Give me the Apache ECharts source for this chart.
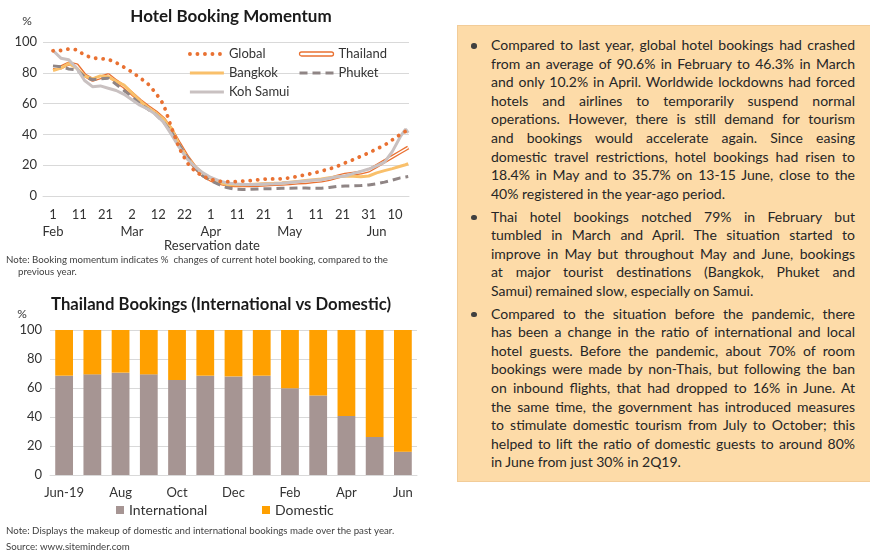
<!DOCTYPE html>
<html><head><meta charset="utf-8">
<script src="https://cdn.jsdelivr.net/npm/echarts@6/dist/echarts.min.js"></script>
<style>
html,body{margin:0;padding:0;background:#fff;}
#chart{position:absolute;left:0;top:0;width:870px;height:560px;}
#box{position:absolute;left:457px;top:25px;width:413px;height:457px;background:#FDDBA8;box-sizing:border-box;border:1px solid #F2CC98;border-right:none;padding-top:10px;font-family:Lato,sans-serif;font-size:14px;color:#262626;}
.p{position:relative;margin-left:33px;width:364px;margin-bottom:4.2px;}
.l{height:18.6px;line-height:18.6px;text-align:justify;text-align-last:justify;white-space:nowrap;}
.l.e{text-align-last:left;}
.p:before{content:'';position:absolute;left:-20px;top:7px;width:5.5px;height:5.5px;border-radius:50%;background:#404040;}
</style>
</head><body>
<div id="chart"></div>
<div id="box">
<div class="p">
<div class="l">Compared to last year, global hotel bookings had crashed</div>
<div class="l">from an average of 90.6% in February to 46.3% in March</div>
<div class="l">and only 10.2% in April. Worldwide lockdowns had forced</div>
<div class="l">hotels and airlines to temporarily suspend normal</div>
<div class="l">operations. However, there is still demand for tourism</div>
<div class="l">and bookings would accelerate again. Since easing</div>
<div class="l">domestic travel restrictions, hotel bookings had risen to</div>
<div class="l">18.4% in May and to 35.7% on 13-15 June, close to the</div>
<div class="l e">40% registered in the year-ago period.</div>
</div>
<div class="p">
<div class="l">Thai hotel bookings notched 79% in February but</div>
<div class="l">tumbled in March and April. The situation started to</div>
<div class="l">improve in May but throughout May and June, bookings</div>
<div class="l">at major tourist destinations (Bangkok, Phuket and</div>
<div class="l e">Samui) remained slow, especially on Samui.</div>
</div>
<div class="p">
<div class="l">Compared to the situation before the pandemic, there</div>
<div class="l">has been a change in the ratio of international and local</div>
<div class="l">hotel guests. Before the pandemic, about 70% of room</div>
<div class="l">bookings were made by non-Thais, but following the ban</div>
<div class="l">on inbound flights, that had dropped to 16% in June. At</div>
<div class="l">the same time, the government has introduced measures</div>
<div class="l">to stimulate domestic tourism from July to October; this</div>
<div class="l">helped to lift the ratio of domestic guests to around 80%</div>
<div class="l e">in June from just 30% in 2Q19.</div>
</div>
</div>
<script>
// ---- Top chart data (day index from 1 Feb 2020) ----
const days = [0,3,6,9,12,15,18,21,24,27,30,33,36,39,42,45,48,51,54,57,60,63,66,69,72,75,78,81,84,87,90,93,96,99,102,105,108,111,114,117,120,123,126,129,132,134,135];
const globalVals = [94.3,94.5,95.5,95,91.5,89.6,89.2,88.7,86.6,83.6,80.5,76.8,73,67,59.5,44.5,31,21.5,16,12.8,10.8,9.6,9.3,9.3,9.6,10,10.5,11,11.1,11.2,11.8,12.8,13.8,14.8,16.2,17.5,19.3,21.5,23.5,25.8,28,30.5,33,36.5,40,42,42.5];
const thailandVals = [83.5,83.5,86,85,78.5,75.5,77,78.5,74.5,71,66.5,62,58,54.5,50,43,34,25.5,18.5,13.5,10.5,8.5,7.5,7,7,7,7.2,7.5,7.8,8,8.3,8.8,9,9.5,10,11,12.5,13.8,14.5,15.2,16.5,19.5,22.5,25.5,28.5,30.5,31.5];
const bangkokVals = [81.5,83,86,83,78,76,78,77.5,74.5,72,67,62,57.5,54,50,44,33,25,19,14.5,11.5,9,7.5,7.3,7.3,7.5,7.8,8,8.2,8.5,9,9.5,10,10.5,11,11.8,12.5,12.8,12.8,12.5,13,15,16.5,17.8,19.3,20.3,21];
const phuketVals = [84.5,84,82.5,82,77.5,75.5,76,76.5,72.5,68.5,64.5,60,56.5,53,48,41.5,33,25,18.5,13,10,7.5,5.5,4.5,4.3,4.3,4.5,4.7,4.8,5,5,5.2,5.2,5,5,5.5,6.3,6.5,6.6,6.8,7.2,8,9,10.3,11.8,12.4,12.7];
const kohSamuiVals = [94.5,89.5,88.5,83,75,71,71.5,70,68.5,66,62.5,59,56.5,53,48,40,31.5,24,19,15,12,10,8.5,8,7.5,7.5,7.5,7.8,8,8.3,8.8,9.3,9.8,10.2,10.5,11.5,12.5,13,14.5,16,17.5,19.5,22,29,38.5,43.5,41];
const tickValues = [0,10,20,30,40,50,60,70,80,90,100,110,120,123,130];
const tickLabels = ['1\nFeb','11','21','2\nMar','12','22','1\nApr','11','21','1\nMay','11','21','31','\nJun','10'];

// ---- Bottom chart data ----
const barCats = ['Jun-19','Jul','Aug','Sep','Oct','Nov','Dec','Jan','Feb','Mar','Apr','May','Jun'];
const intlVals = [68.5,69.4,70.6,69.4,65.5,68.5,68,68.5,59.8,54.9,40.7,26.2,16.1];
const domVals = [31.5,30.6,29.4,30.6,34.5,31.5,32,31.5,40.2,45.1,59.3,73.8,83.9];

const F = 'Lato, sans-serif';
const TXT = '#333';
const pairs = vals => days.map((d, i) => [d, vals[i]]);
const lineBase = { type: 'line', xAxisIndex: 0, yAxisIndex: 0, symbol: 'none', showSymbol: false, animation: false };

const chart = echarts.init(document.getElementById('chart'), null, { renderer: 'canvas' });
chart.setOption({
  animation: false,
  textStyle: { fontFamily: F },
  title: [
    { text: 'Hotel Booking Momentum', left: 231, top: 6, padding: 0, textAlign: 'center',
      textStyle: { fontFamily: F, fontWeight: 'bold', fontSize: 17, lineHeight: 22, color: '#1a1a1a' } },
    { text: '%', left: 27, top: 14, padding: 0, textAlign: 'center', textStyle: { fontFamily: F, fontWeight: 'normal', fontSize: 12, lineHeight: 14, color: TXT } },
    { text: 'Reservation date', left: 212, top: 238, padding: 0, textAlign: 'center', textStyle: { fontFamily: F, fontWeight: 'normal', fontSize: 13, lineHeight: 16, color: TXT } },
    { text: 'Note: Booking momentum indicates %  changes of current hotel booking, compared to the', left: 6, top: 254, padding: 0,
      textStyle: { fontFamily: F, fontWeight: 'normal', fontSize: 9.7, lineHeight: 12, color: '#404040' } },
    { text: 'previous year.', left: 18, top: 266, padding: 0, textStyle: { fontFamily: F, fontWeight: 'normal', fontSize: 9.7, lineHeight: 12, color: '#404040' } },
    { text: 'Thailand Bookings (International vs Domestic)', left: 221, top: 294, padding: 0, textAlign: 'center',
      textStyle: { fontFamily: F, fontWeight: 'bold', fontSize: 16.7, lineHeight: 22, color: '#1a1a1a' } },
    { text: '%', left: 22, top: 307, padding: 0, textAlign: 'center', textStyle: { fontFamily: F, fontWeight: 'normal', fontSize: 12, lineHeight: 14, color: TXT } },
    { text: 'Note: Displays the makeup of domestic and international bookings made over the past year.', left: 6, top: 525, padding: 0,
      textStyle: { fontFamily: F, fontWeight: 'normal', fontSize: 9.7, lineHeight: 12, color: '#404040' } },
    { text: 'Source: www.siteminder.com', left: 6, top: 541, padding: 0, textStyle: { fontFamily: F, fontWeight: 'normal', fontSize: 9.7, lineHeight: 12, color: '#404040' } }
  ],
  legend: [
    { left: 188, top: 47, orient: 'vertical', itemWidth: 34, itemHeight: 10, itemGap: 5, padding: 0, selectedMode: false,
      itemStyle: { opacity: 0 }, lineStyle: { width: 'inherit' },
      textStyle: { fontFamily: F, fontSize: 13, lineHeight: 14, color: TXT },
      data: ['Global', 'Bangkok', 'Koh Samui'] },
    { left: 298, top: 47, orient: 'vertical', itemWidth: 34, itemHeight: 10, itemGap: 5, padding: 0, selectedMode: false,
      itemStyle: { opacity: 0 }, lineStyle: { width: 'inherit' },
      textStyle: { fontFamily: F, fontSize: 13, lineHeight: 14, color: TXT },
      data: [{ name: 'Thailand', icon: 'path://M2,0H32A2,2,0,0,1,32,4H2A2,2,0,0,1,2,0Z', itemStyle: { opacity: 1, color: '#fff', borderColor: '#E97132', borderWidth: 1.3 } }, 'Phuket'] },
    { left: 116, top: 503, itemWidth: 8, itemHeight: 8, padding: 0, selectedMode: false, icon: 'rect',
      textStyle: { fontFamily: F, fontSize: 14, color: TXT }, data: ['International'] },
    { left: 262, top: 503, itemWidth: 8, itemHeight: 8, padding: 0, selectedMode: false, icon: 'rect',
      textStyle: { fontFamily: F, fontSize: 14, color: TXT }, data: ['Domestic'] }
  ],
  grid: [
    { left: 43, top: 42, width: 366, height: 154 },
    { left: 50, top: 330, width: 367, height: 145 }
  ],
  xAxis: [
    { type: 'value', gridIndex: 0, min: -3.8, max: 135.3,
      axisLine: { show: true, lineStyle: { color: '#D9D9D9', width: 1 } }, axisTick: { show: false }, splitLine: { show: false },
      axisLabel: { customValues: tickValues, formatter: v => tickLabels[tickValues.indexOf(v)], margin: 10, fontFamily: F, fontSize: 13, lineHeight: 17, color: TXT, showMinLabel: true, showMaxLabel: true } },
    { type: 'category', gridIndex: 1, data: barCats,
      axisLine: { show: true, lineStyle: { color: '#D9D9D9' } }, axisTick: { show: false },
      axisLabel: { interval: 1, margin: 11, fontFamily: F, fontSize: 13, color: TXT } }
  ],
  yAxis: [
    { type: 'value', gridIndex: 0, min: 0, max: 100, interval: 20,
      axisLine: { show: false }, axisTick: { show: false },
      splitLine: { lineStyle: { color: '#D9D9D9', width: 1 } },
      axisLabel: { margin: 6, fontFamily: F, fontSize: 13, color: TXT } },
    { type: 'value', gridIndex: 1, min: 0, max: 100, interval: 20,
      axisLine: { show: false }, axisTick: { show: false },
      splitLine: { lineStyle: { color: '#D9D9D9', width: 1 } },
      axisLabel: { margin: 8, fontFamily: F, fontSize: 13, color: TXT } }
  ],
  series: [
    Object.assign({}, lineBase, { name: 'Thailand', data: pairs(thailandVals), itemStyle: { color: '#E97132' }, lineStyle: { color: '#E97132', width: 4 } }),
    Object.assign({}, lineBase, { name: 'Thailand core', data: pairs(thailandVals), silent: true, itemStyle: { color: '#fff' }, lineStyle: { color: '#FFFFFF', width: 1.4 } }),
    Object.assign({}, lineBase, { name: 'Bangkok', data: pairs(bangkokVals), itemStyle: { color: '#F9C06B' }, lineStyle: { color: '#F9C06B', width: 3 } }),
    Object.assign({}, lineBase, { name: 'Phuket', data: pairs(phuketVals), itemStyle: { color: '#8F8585' }, lineStyle: { color: '#8F8585', width: 3, type: [8, 5] } }),
    Object.assign({}, lineBase, { name: 'Koh Samui', data: pairs(kohSamuiVals), itemStyle: { color: '#C9C1C1' }, lineStyle: { color: '#C9C1C1', width: 3 } }),
    Object.assign({}, lineBase, { name: 'Global', data: pairs(globalVals), itemStyle: { color: '#E97132' }, lineStyle: { color: '#E97132', width: 3.8, type: [0.1, 7.4], cap: 'round' } }),
    { name: 'International', type: 'bar', stack: 'share', xAxisIndex: 1, yAxisIndex: 1, data: intlVals, barCategoryGap: '37%', itemStyle: { color: '#A69593' } },
    { name: 'Domestic', type: 'bar', stack: 'share', xAxisIndex: 1, yAxisIndex: 1, data: domVals, barCategoryGap: '37%', itemStyle: { color: '#FFA000' } }
  ]
});
</script>
</body></html>
